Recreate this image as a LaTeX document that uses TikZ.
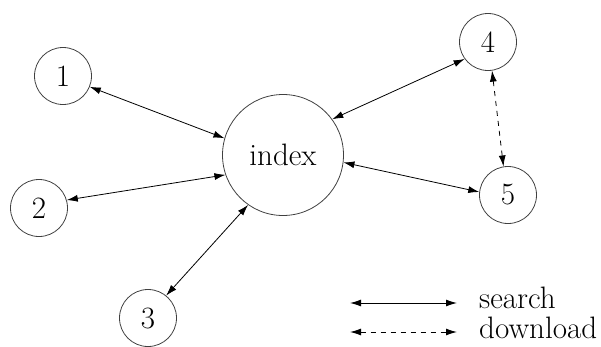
\documentclass[tikz,border=0pt]{standalone}
\usetikzlibrary{arrows.meta, positioning}

\begin{document}
\begin{tikzpicture}[x=1pt,y=-1pt]
        \tikzset{
          noeud/.style={
            draw=black!75,circle,line width=0.8pt,inner sep=0pt,
            minimum size=57pt,font=\fontsize{31}{34}\selectfont,
          },
          noeud central/.style={noeud,minimum size=121pt},
          fleche/.style={
            line width=0.8pt,{Latex[length=11pt,width=7pt]}-{Latex[length=11pt,width=7pt]},
          },
          fleche pointillee/.style={fleche,dash pattern=on 5pt off 5pt},
          legende/.style={font=\fontsize{31}{34}\selectfont,anchor=base west,inner sep=0pt},
          }
        \useasboundingbox (0,0) rectangle (601,346);
        \node[noeud central] (index) at (283,155) {index};
        \node[noeud] (p1) at (63,76) {1};
        \node[noeud] (p2) at (39,208) {2};
        \node[noeud] (p3) at (148,318) {3};
        \node[noeud] (p4) at (488,42) {4};
        \node[noeud] (p5) at (508,195) {5};

        \draw[fleche] (p1.-22) -- (index.164);
        \draw[fleche] (p2.16) -- (index.199);
        \draw[fleche] (p3.51) -- (index.235);
        \draw[fleche] (p4.216) -- (index.36);
        \draw[fleche] (p5.174) -- (index.-7);
        \draw[fleche pointillee] (p4.278) -- (p5.99);

        % legende
        \node[legende] (recherche) at (479,308) {search};
        \node[legende] (telechargement) at (479,338) {download};
        \coordinate (r1) at (350,303);
        \coordinate (t1) at (350,332);
        \draw[fleche,line width=1pt] (r1) -- ([xshift=-22pt]r1 -| recherche.west);
        \draw[fleche pointillee,line width=1pt] (t1) -- ([xshift=-22pt]t1 -| telechargement.west);
      \end{tikzpicture}
\end{document}
